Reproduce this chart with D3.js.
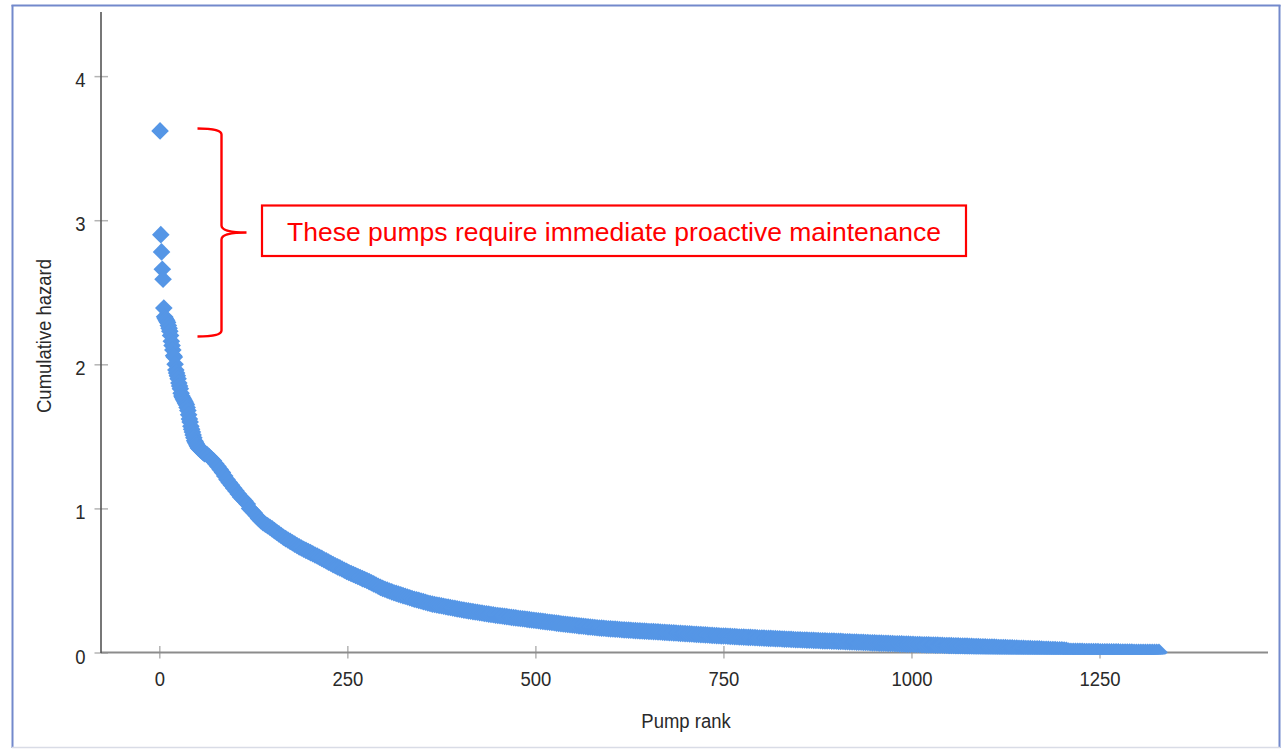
<!DOCTYPE html>
<html>
<head>
<meta charset="utf-8">
<script src="https://cdn.jsdelivr.net/npm/d3@7/dist/d3.min.js"></script>
<style>
  html, body { margin: 0; padding: 0; background: #ffffff; }
  svg { display: block; }
  .tick-label { font-family: "Liberation Sans", Arial, sans-serif; font-size: 21px; fill: #2a2a2a; }
  .axis-title { font-family: "Liberation Sans", Arial, sans-serif; font-size: 21px; fill: #2a2a2a; }
  .note { font-family: "Liberation Sans", Arial, sans-serif; font-size: 26.5px; fill: #ff0000; }
</style>
</head>
<body>
<svg id="chart" width="1287" height="750"></svg>
<script>
// ---- data ----
const xTickValues = [0, 250, 500, 750, 1000, 1250];
const yTickValues = [0, 1, 2, 3, 4];
const xTitle = "Pump rank";
const yTitle = "Cumulative hazard";
const noteText = "These pumps require immediate proactive maintenance";

const pumpRank = [
1,2,3,4,5,6,7,8,9,10,11,12,13,14,15,16,17,18,19,20,21,22,23,24,25,26,27,28,29,30,
31,32,33,34,35,36,37,38,39,40,41,42,43,44,45,46,47,48,49,50,51,52,53,54,55,56,57,58,59,60,
63,66,69,72,75,78,81,84,87,90,93,96,99,102,105,108,111,114,117,120,123,126,129,132,135,138,141,144,
147,150,153,156,159,162,165,
168,171,174,177,180,183,186,
189,192,195,198,201,204,207,210,213,216,219,222,225,228,231,234,237,240,243,246,249,252,255,258,261,264,267,270,273,276,279,282,285,288,291,294,297,
300,303,306,309,312,315,318,321,324,327,330,333,336,339,342,345,348,351,354,357,360,363,366,369,372,375,378,381,384,387,390,393,396,399,402,405,408,411,414,417,420,423,426,429,432,435,438,441,444,447,450,453,
456,459,462,465,468,471,474,477,480,483,486,489,492,495,498,
501,504,507,510,513,516,519,522,525,528,531,534,537,540,543,
546,549,552,555,558,561,564,567,570,573,576,579,582,585,
588,591,594,597,600,603,606,609,612,615,618,621,624,627,630,
633,636,639,642,645,648,651,654,657,660,663,666,669,672,675,
678,681,684,687,690,693,696,699,702,705,708,711,714,717,720,
723,726,729,732,735,738,741,744,747,750,753,756,759,762,765,
768,771,774,777,780,783,786,789,792,795,798,801,804,807,
810,813,816,819,822,825,828,831,834,837,840,843,846,849,852,
855,858,861,864,867,870,873,876,879,882,885,888,891,894,897,
900,903,906,909,912,915,918,921,924,927,930,933,936,939,942,
945,948,951,954,957,960,963,966,969,972,975,978,981,984,987,
990,993,996,999,1002,1005,1008,1011,1014,1017,1020,1023,1026,1029,
1032,1035,1038,1041,1044,1047,1050,1053,1056,1059,1062,1065,1068,1071,1074,
1077,1080,1083,1086,1089,1092,1095,1098,1101,1104,1107,1110,1113,1116,1119,
1122,1125,1128,1131,1134,1137,1140,1143,1146,1149,1152,1155,1158,1161,1164,
1167,1170,1173,1176,1179,1182,1185,1188,1191,1194,1197,1200,1203,1206,
1209,1212,1215,1218,1221,1224,1227,1230,1233,1236,1239,1242,1245,1248,1251,1254,1257,1260,1263,1266,1269,1272,1275,1278,1281,1284,1287,1290,1293,1296,1299,1302,1305,1308,1311,1314,1317,1320,1323,1326,1329
];

const cumulativeHazard = [
3.62,2.90,2.78,2.66,2.59,2.39,2.33,2.32,2.31,2.30,2.29,2.27,2.25,2.23,2.20,2.16,2.13,2.10,2.06,2.05,
2.00,1.96,1.94,1.92,1.90,1.87,1.85,1.83,1.80,1.78,1.77,1.76,1.75,1.74,1.73,1.72,1.70,1.68,1.65,1.62,
1.60,1.57,1.55,1.53,1.51,1.49,1.47,1.46,1.45,1.44,1.43,1.42,1.42,1.41,1.41,1.40,1.40,1.39,1.39,1.38,
1.375,1.36,1.345,1.33,1.31,1.29,1.27,1.25,1.225,1.20,1.18,1.16,1.14,1.12,1.10,1.08,1.065,1.05,1.03,1.00,0.985,0.97,0.95,0.93,0.915,0.90,0.89,0.88,
0.869,0.858,0.846,0.835,0.823,0.812,0.80,
0.79,0.781,0.771,0.762,0.752,0.743,0.733,
0.725,0.717,0.709,0.701,0.693,0.685,0.677,0.67,0.661,0.653,0.644,0.636,0.627,0.619,0.61,0.602,0.594,0.587,0.579,0.571,0.563,0.555,0.548,0.541,0.534,0.527,0.52,0.513,0.507,0.50,0.492,0.484,0.476,0.468,0.46,0.452,0.445,
0.439,0.433,0.427,0.421,0.415,0.41,0.405,0.40,0.395,0.39,0.385,0.38,0.375,0.37,0.366,0.362,0.357,0.353,0.349,0.344,0.34,0.336,0.333,0.330,0.327,0.324,0.321,0.318,0.315,0.312,0.309,0.306,0.303,0.300,0.297,0.294,0.291,0.289,0.286,0.284,0.281,0.279,0.276,0.274,0.271,0.269,0.266,0.264,0.262,0.259,0.257,0.255,
0.253,0.251,0.249,0.246,0.244,0.242,0.240,0.238,0.236,0.234,0.232,0.230,0.228,0.226,0.224,
0.222,0.220,0.218,0.216,0.214,0.212,0.210,0.208,0.206,0.204,0.202,0.200,0.198,0.196,0.194,
0.193,0.191,0.189,0.187,0.185,0.184,0.182,0.180,0.178,0.177,0.175,0.173,0.172,0.170,
0.169,0.168,0.167,0.165,0.164,0.163,0.162,0.161,0.160,0.158,0.157,0.156,0.155,0.154,0.153,
0.152,0.151,0.150,0.149,0.148,0.147,0.146,0.146,0.145,0.144,0.143,0.142,0.141,0.140,0.139,
0.138,0.137,0.136,0.135,0.134,0.133,0.132,0.131,0.130,0.129,0.128,0.127,0.126,0.125,0.124,
0.123,0.122,0.121,0.120,0.119,0.118,0.117,0.116,0.115,0.115,0.114,0.113,0.112,0.111,0.110,
0.109,0.108,0.108,0.107,0.106,0.105,0.105,0.104,0.103,0.102,0.101,0.101,0.100,0.099,
0.098,0.098,0.097,0.096,0.095,0.095,0.094,0.093,0.092,0.092,0.091,0.090,0.089,0.089,0.088,
0.087,0.087,0.086,0.085,0.085,0.084,0.083,0.083,0.082,0.081,0.081,0.080,0.080,0.079,0.079,
0.078,0.077,0.077,0.076,0.075,0.075,0.074,0.073,0.073,0.072,0.071,0.071,0.070,0.069,0.069,
0.068,0.067,0.067,0.066,0.065,0.065,0.064,0.064,0.063,0.062,0.062,0.061,0.061,0.060,0.060,
0.059,0.058,0.058,0.057,0.057,0.056,0.056,0.055,0.054,0.054,0.053,0.053,0.052,0.052,
0.051,0.051,0.050,0.050,0.049,0.049,0.048,0.048,0.047,0.046,0.046,0.045,0.045,0.044,0.044,
0.043,0.043,0.042,0.041,0.041,0.040,0.040,0.039,0.038,0.038,0.037,0.037,0.036,0.035,0.035,
0.034,0.034,0.033,0.032,0.032,0.031,0.031,0.030,0.029,0.029,0.028,0.028,0.027,0.026,0.026,
0.025,0.025,0.024,0.023,0.023,0.022,0.021,0.021,0.020,0.019,0.018,0.018,0.017,0.016,
0.010,0.009,0.009,0.009,0.008,0.008,0.008,0.007,0.007,0.007,0.006,0.006,0.006,0.006,0.005,0.005,0.005,0.005,0.004,0.004,0.004,0.004,0.004,0.003,0.003,0.003,0.003,0.003,0.003,0.002,0.002,0.002,0.002,0.002,0.002,0.002,0.002,0.001,0.001,0.001,0.001
];

// ---- drawing ----
const svg = d3.select("#chart");
const W = 1287, H = 750;
const sx = 0.88; // horizontal squeeze of the axis font

// frame
const frame = svg.append("g");
frame.append("line").attr("x1", 11.5).attr("x2", 1280.5).attr("y1", 5.5).attr("y2", 5.5)
  .attr("stroke", "#7389cc").attr("stroke-width", 2);
frame.append("line").attr("x1", 12.5).attr("x2", 12.5).attr("y1", 5).attr("y2", 748)
  .attr("stroke", "#7389cc").attr("stroke-width", 2);
frame.append("line").attr("x1", 1279.5).attr("x2", 1279.5).attr("y1", 5).attr("y2", 748)
  .attr("stroke", "#7389cc").attr("stroke-width", 2);
frame.append("line").attr("x1", 12).attr("x2", 1280).attr("y1", 747.5).attr("y2", 747.5)
  .attr("stroke", "#d9dce6").attr("stroke-width", 1.5);

const x = d3.scaleLinear().domain([-77.5, 1474]).range([101, 1268]);
const y = d3.scaleLinear().domain([0, 4.445]).range([652.5, 12]);

// y axis
const yAxis = d3.axisLeft(y).tickValues(yTickValues).tickFormat(d3.format("d")).tickSizeOuter(0);
const gy = svg.append("g").attr("transform", "translate(101,0)").call(yAxis);
gy.select(".domain").remove();
gy.selectAll(".tick line").attr("x1", -6.5).attr("x2", 7).attr("stroke", "#b4b4b4").attr("stroke-width", 1.5);
gy.selectAll(".tick text").attr("class", "tick-label").attr("x", -15.5 / sx).attr("dy", null).attr("y", 10.5)
  .attr("transform", `scale(${sx},1)`)
  .attr("text-anchor", "end").attr("font-family", null).attr("font-size", null);

// x axis
const xAxis = d3.axisBottom(x).tickValues(xTickValues).tickFormat(d3.format("d")).tickSizeOuter(0);
const gx = svg.append("g").attr("transform", "translate(0,652.5)").call(xAxis);
gx.select(".domain").remove();
gx.selectAll(".tick line").attr("y1", -6.5).attr("y2", 6).attr("stroke", "#b4b4b4").attr("stroke-width", 1.5);
gx.selectAll(".tick text").attr("class", "tick-label").attr("dy", null).attr("y", 34)
  .attr("transform", `scale(${sx},1)`)
  .attr("text-anchor", "middle").attr("font-family", null).attr("font-size", null);

// axis lines
svg.append("line").attr("x1", x(-77.5)).attr("x2", x(1474)).attr("y1", y(0)).attr("y2", y(0))
  .attr("stroke", "#8c8c8c").attr("stroke-width", 2);
svg.append("line").attr("x1", x(-77.5)).attr("x2", x(-77.5)).attr("y1", y(4.445)).attr("y2", y(0) + 0.5)
  .attr("stroke", "#555555").attr("stroke-width", 1.6);

// axis titles
svg.append("text").attr("class", "axis-title")
  .attr("transform", `translate(686,728) scale(${sx},1)`)
  .attr("text-anchor", "middle").text(xTitle);
svg.append("text").attr("class", "axis-title")
  .attr("transform", `translate(51,336) rotate(-90) scale(${sx},1)`)
  .attr("text-anchor", "middle").text(yTitle);

// clip for points (clipped at bottom edge of x axis)
svg.append("defs").append("clipPath").attr("id", "plotClip")
  .append("rect").attr("x", 0).attr("y", 0).attr("width", W).attr("height", 654.5);

const n = Math.min(pumpRank.length, cumulativeHazard.length);
const points = d3.range(n).map(i => ({ rank: pumpRank[i], hazard: cumulativeHazard[i] }));
const r = 8.8;
const diamond = `M0,${-r}L${r},0L0,${r}L${-r},0Z`;

svg.append("g").attr("clip-path", "url(#plotClip)")
  .selectAll("path").data(points).join("path")
  .attr("d", diamond)
  .attr("transform", d => `translate(${x(d.rank)},${y(d.hazard)})`)
  .attr("fill", "#5596e6");

// annotation: brace
const bTop = 128.5, bBot = 336.5, bMid = 232.5, bL = 197.5, bV = 221.5, bTip = 246.5;
const brace = d3.path();
brace.moveTo(bL, bTop);
brace.quadraticCurveTo(bV, bTop, bV, bTop + 6);
brace.lineTo(bV, bMid - 7);
brace.quadraticCurveTo(bV, bMid, bTip, bMid);
brace.quadraticCurveTo(bV, bMid, bV, bMid + 7);
brace.lineTo(bV, bBot - 6);
brace.quadraticCurveTo(bV, bBot, bL, bBot);
svg.append("path").attr("d", brace.toString()).attr("fill", "none")
  .attr("stroke", "#ff0000").attr("stroke-width", 2.4);

// annotation: box + text
svg.append("rect").attr("x", 262).attr("y", 205.5).attr("width", 704).attr("height", 50.5)
  .attr("fill", "none").attr("stroke", "#ff0000").attr("stroke-width", 2.2);
svg.append("text").attr("class", "note").attr("x", 287).attr("y", 240.5).text(noteText);
</script>
</body>
</html>
